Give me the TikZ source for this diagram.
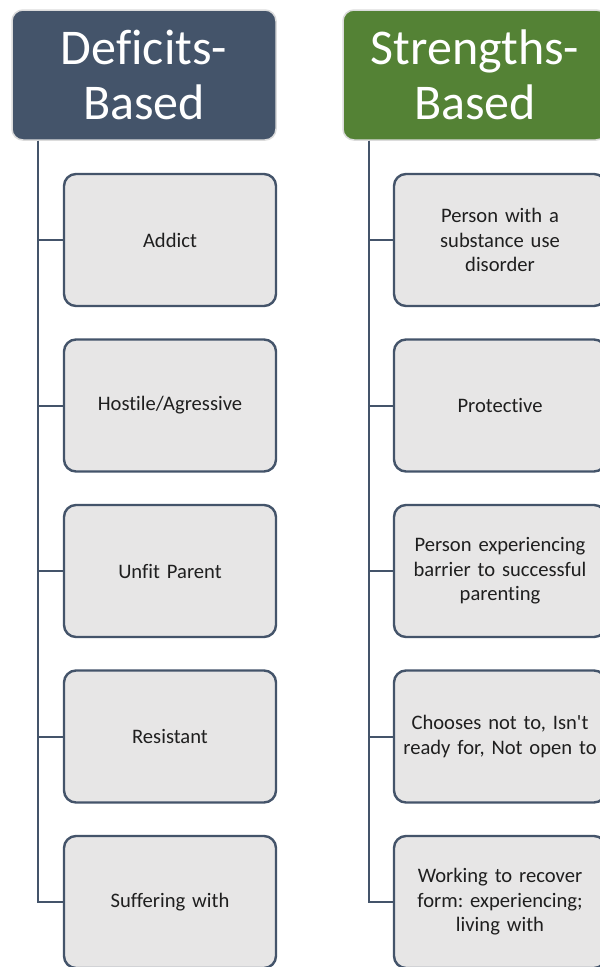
\documentclass[tikz,border=0pt]{standalone}
\usepackage{fontspec}
\setmainfont[Ligatures={CommonOff,TeXOff}]{Carlito}
\begin{document}
\begin{tikzpicture}[x=1pt,y=-1pt,
  hdr/.style={draw=hdrline,line width=1.5pt,rounded corners=11pt,minimum width=264pt,minimum height=130pt,
    text=white,align=center,font=\fontsize{50}{55}\selectfont,inner sep=0pt},
  child/.style={draw=slate,fill=boxfill,line width=2.4pt,rounded corners=12pt,minimum width=212pt,minimum height=132pt,
    text width=204pt,align=center,font=\fontsize{20.6}{24.5}\selectfont\frenchspacing,text=black!88,inner sep=0pt},
  conn/.style={draw=slate,line width=2pt}]
\definecolor{slate}{HTML}{44546A}
\definecolor{grn}{HTML}{548235}
\definecolor{boxfill}{HTML}{E7E6E6}
\definecolor{hdrline}{HTML}{DCDCDC}
\useasboundingbox (0,0) rectangle (600,967);
\fill[white] (0,0) rectangle (600,967);
\node[hdr,fill=slate] (hL) at (144,75) {Deficits-\\Based};
\node[hdr,fill=grn] (hR) at (475,75) {Strengths-\\Based};
\coordinate (tL) at (38,140);
\coordinate (tR) at (369,140);
\foreach \i/\y/\a/\b in {1/240/{Addict}/{Person with a\\substance use\\disorder},
  2/405.5/{Hostile/Agressive}/{Protective},
  3/571/{Unfit Parent}/{Person experiencing\\barrier to successful\\parenting},
  4/736.5/{Resistant}/{Chooses not to, Isn't\\ready for, Not open to},
  5/902/{Suffering with}/{Working to recover\\form: experiencing;\\living with}}{
  \node[child] (l\i) at (170,\y) {\a};
  \node[child] (r\i) at (500,\y) {\b};
}
\foreach \i in {1,...,5}{
  \draw[conn] (hL.south -| tL) |- (l\i.west);
  \draw[conn] (hR.south -| tR) |- (r\i.west);
}
\end{tikzpicture}
\end{document}
